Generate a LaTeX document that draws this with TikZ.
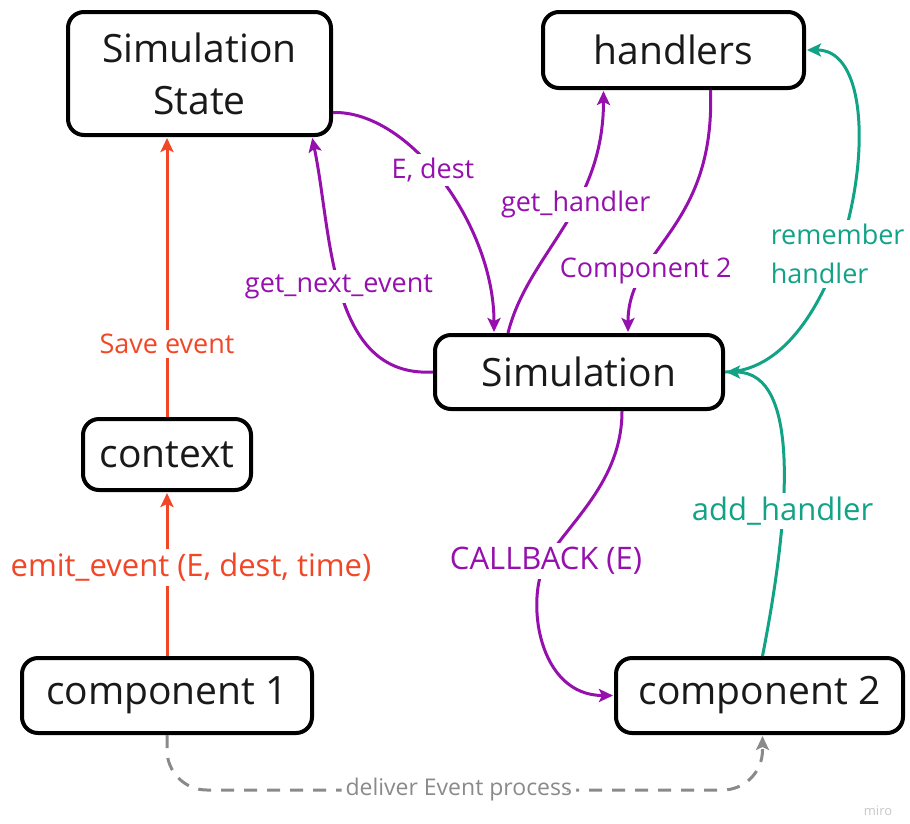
\documentclass[tikz,border=0pt]{standalone}
\usepackage{fontspec}
\setmainfont{Open Sans}
\usepackage{xcolor}
\usetikzlibrary{positioning,arrows.meta}
\definecolor{miropurple}{HTML}{9510AC}
\definecolor{mirored}{HTML}{F24726}
\definecolor{miroteal}{HTML}{12A386}
\definecolor{mirogray}{HTML}{8A8A8A}
\newcommand{\boxfont}{\fontsize{39}{52}\selectfont}
\newcommand{\edgefont}{\fontsize{27}{39}\selectfont}
\newcommand{\bigedgefont}{\fontsize{31}{38}\selectfont}
\newcommand{\smalledgefont}{\fontsize{23}{28}\selectfont}

\begin{document}
\begin{tikzpicture}[x=1pt, y=-1pt,
          arrowstyle/.style={->, line width=3pt, >={Stealth[length=14pt, width=13pt, inset=3pt]}, shorten >=1pt},
          edgelabel/.style={fill=white, inner sep=4pt, font=\edgefont}]
          % A box style
          \tikzstyle{boxnode} = [draw, line width=4pt, rounded corners=16pt, rectangle, text centered, inner sep=0pt, text=black!90, font=\boxfont]

          \useasboundingbox (0,0) rectangle (910,823);

          % Place the boxes
          \node (SimState) [boxnode, minimum width=263pt, minimum height=123pt, align=center] at (199.5,73.5) {Simulation\\State};
          \node (Handlers) [boxnode, minimum width=261pt, minimum height=76pt] at (673.5,50) {handlers};
          \node (Sim)      [boxnode, minimum width=288pt, minimum height=74pt] at (579,372) {Simulation};
          \node (Comp1)    [boxnode, minimum width=290pt, minimum height=75pt] at (167,695.5) {component 1};
          \node (Context)  [boxnode, minimum width=168pt, minimum height=71pt, above=164pt of Comp1] {context};
          \node (Comp2)    [boxnode, minimum width=287pt, minimum height=75pt] at (759.5,695.5) {component 2};
          \coordinate (CallbackMid) at (546,561);

          % Emitting an event
          \draw[arrowstyle, mirored] (Comp1) -- node[edgelabel, font=\bigedgefont, text=mirored, xshift=24pt, pos=0.54] {emit\_event (E, dest, time)} (Context);
          \draw[arrowstyle, mirored] (Context) -- node[edgelabel, text=mirored, pos=0.26] {Save event} (Context.north |- SimState.south);

          % Simulation loop
          \draw[arrowstyle, miropurple] (Sim.west) .. controls +(-105,6) and +(20,95) .. node[edgelabel, text=miropurple, pos=0.52] {get\_next\_event} ([xshift=-21pt]SimState.south east);
          \draw[arrowstyle, miropurple] ([yshift=-39pt]SimState.east) .. controls +(77,-2) and +(0,-107) .. node[edgelabel, text=miropurple, pos=0.45] {E, dest} ([xshift=-85pt]Sim.north);
          \draw[arrowstyle, miropurple] ([xshift=-71pt]Sim.north) .. controls +(20,-80) and +(0,120) .. node[edgelabel, text=miropurple, pos=0.6] {get\_handler} ([xshift=-70pt]Handlers.south);
          \draw[arrowstyle, miropurple] ([xshift=37pt]Handlers.south) .. controls +(5,140) and +(0,-85) .. node[edgelabel, text=miropurple, pos=0.71] {Component 2} ([xshift=49pt]Sim.north);
          \draw[arrowstyle, miropurple] ([xshift=43pt]Sim.south) .. controls +(0,70) and +(24,-40) .. (CallbackMid) node[edgelabel, font=\bigedgefont, text=miropurple] {CALLBACK (E)} .. controls +(-21,39) and +(-76,0) .. (Comp2.west);

          % Registering handlers
          \draw[arrowstyle, miroteal] ([xshift=3pt]Comp2.north) .. controls +(27,-138) and +(77,0) .. node[edgelabel, font=\bigedgefont, text=miroteal, pos=0.36] {add\_handler} (Sim.east);
          \draw[arrowstyle, miroteal] (Sim.east) .. controls +(127,0) and +(96,0) .. node[edgelabel, text=miroteal, align=left, pos=0.41] {remember\\handler} (Handlers.east);

          % Delivery
          \draw[arrowstyle, mirogray, dash pattern=on 13pt off 10pt, rounded corners=40pt] (Comp1.south) |- node[edgelabel, font=\smalledgefont, text=mirogray, pos=0.745] {deliver Event process} ([xshift=3pt, yshift=-55pt]Comp2.south) -- ([xshift=3pt]Comp2.south);

          \node (Miro) [text=black!22, font=\fontsize{13}{15}\selectfont] at (878,811) {miro};
          \end{tikzpicture}
\end{document}
